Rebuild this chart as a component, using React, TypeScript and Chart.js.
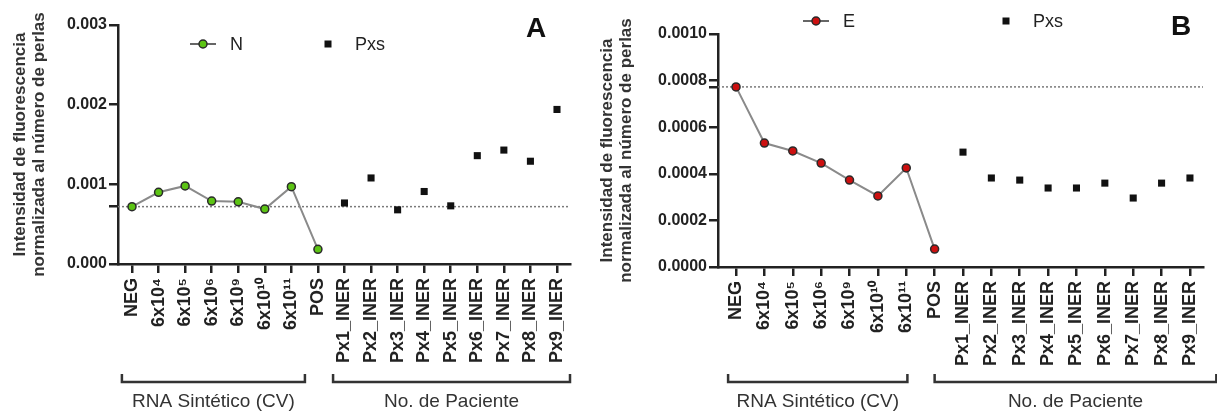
import React, { useEffect, useRef } from 'react';
import { Chart, registerables } from 'chart.js';

Chart.register(...registerables);

// ---------- data ----------
const categories = [
  'NEG', '6x10⁴', '6x10⁵', '6x10⁶', '6x10⁹', '6x10¹⁰', '6x10¹¹', 'POS',
  'Px1_INER', 'Px2_INER', 'Px3_INER', 'Px4_INER', 'Px5_INER', 'Px6_INER', 'Px7_INER', 'Px8_INER', 'Px9_INER',
];
const syntheticN = [0.00072, 0.0009, 0.00098, 0.00079, 0.00078, 0.00069, 0.00097, 0.000184];
const patientsA = [0.000766, 0.00108, 0.00068, 0.00091, 0.00073, 0.00136, 0.00143, 0.00129, 0.00194];
const cutoffA = 0.00072;
const yTicksA = [0, 0.001, 0.002, 0.003];

const syntheticE = [0.000773, 0.000532, 0.000498, 0.000446, 0.000373, 0.000305, 0.000425, 0.000077];
const patientsB = [0.000493, 0.000382, 0.000373, 0.000339, 0.000339, 0.00036, 0.000296, 0.00036, 0.000382];
const cutoffB = 0.000773;
const yTicksB = [0, 0.0002, 0.0004, 0.0006, 0.0008, 0.001];

const groupLabels = ['RNA Sintético (CV)', 'No. de Paciente'];
const yTitle = ['Intensidad de fluorescencia', 'normalizada al número de perlas'];
const patientLegend = 'Pxs';

const FONT = "'Liberation Sans', Arial, Helvetica, sans-serif";
const INK = '#222222';

type PanelCfg = {
  width: number;
  xMin: number;
  xMax: number;
  yMax: number;
  yTicks: number[];
  decimals: number;
  cutoff: number;
  synth: number[];
  patients: number[];
  synthLabel: string;
  color: string;
  letter: string;
  letterPos: [number, number];
  padTop: number;
  padRight: number;
  axisWidth: number;
  axisBottom: number;
  titlePad: number;
  brackets: [number, number][];
  legendY: number;
  legendSynthX: number;
  legendPxX: number;
};

const panelA: PanelCfg = {
  width: 600,
  xMin: -0.527,
  xMax: 16.49,
  yMax: 0.003,
  yTicks: yTicksA,
  decimals: 3,
  cutoff: cutoffA,
  synth: syntheticN,
  patients: patientsA,
  synthLabel: 'N',
  color: '#5cc414',
  letter: 'A',
  letterPos: [536, 29],
  padTop: 25,
  padRight: 30,
  axisWidth: 118,
  axisBottom: 264,
  titlePad: 11,
  brackets: [[-0.38, 6.51], [7.57, 16.49]],
  legendY: 44,
  legendSynthX: 203,
  legendPxX: 328,
};

const panelB: PanelCfg = {
  width: 619,
  xMin: -0.636,
  xMax: 16.46,
  yMax: 0.001,
  yTicks: yTicksB,
  decimals: 4,
  cutoff: cutoffB,
  synth: syntheticE,
  patients: patientsB,
  synthLabel: 'E',
  color: '#cc1010',
  letter: 'B',
  letterPos: [583, 27],
  padTop: 34,
  padRight: 14,
  axisWidth: 120,
  axisBottom: 267,
  titlePad: 0,
  brackets: [[-0.28, 6.04], [7.0, 16.93]],
  legendY: 21,
  legendSynthX: 218,
  legendPxX: 408,
};

function makeConfig(cfg: PanelCfg): any {
  const decor = {
    id: 'decor' + cfg.letter,
    afterDraw(chart: any) {
      const ctx = chart.ctx as CanvasRenderingContext2D;
      const xs = chart.scales.x;
      ctx.save();
      // brackets + group labels
      cfg.brackets.forEach((b, i) => {
        const x0 = xs.getPixelForValue(b[0]);
        const x1 = xs.getPixelForValue(b[1]);
        ctx.strokeStyle = '#333';
        ctx.lineWidth = 2.5;
        ctx.beginPath();
        ctx.moveTo(x0, 374);
        ctx.lineTo(x0, 382);
        ctx.lineTo(x1, 382);
        ctx.lineTo(x1, 374);
        ctx.stroke();
        ctx.fillStyle = '#333';
        ctx.font = `19px ${FONT}`;
        ctx.textAlign = 'center';
        ctx.textBaseline = 'middle';
        ctx.fillText(groupLabels[i], (x0 + x1) / 2, 402);
      });
      // legend
      const ly = cfg.legendY;
      const sx = cfg.legendSynthX;
      ctx.strokeStyle = '#666';
      ctx.lineWidth = 2;
      ctx.beginPath();
      ctx.moveTo(sx - 13, ly);
      ctx.lineTo(sx + 13, ly);
      ctx.stroke();
      ctx.beginPath();
      ctx.arc(sx, ly, 4, 0, Math.PI * 2);
      ctx.fillStyle = cfg.color;
      ctx.fill();
      ctx.lineWidth = 1.5;
      ctx.strokeStyle = '#2a2a2a';
      ctx.stroke();
      ctx.fillStyle = INK;
      ctx.font = `18px ${FONT}`;
      ctx.textAlign = 'left';
      ctx.textBaseline = 'middle';
      ctx.fillText(cfg.synthLabel, sx + 27, ly + 1);
      ctx.fillStyle = '#111';
      ctx.fillRect(cfg.legendPxX - 3.5, ly - 3.5, 7, 7);
      ctx.fillStyle = INK;
      ctx.fillText(patientLegend, cfg.legendPxX + 27, ly + 1);
      // panel letter
      ctx.font = `bold 28px ${FONT}`;
      ctx.textAlign = 'center';
      ctx.fillStyle = '#111';
      ctx.fillText(cfg.letter, cfg.letterPos[0], cfg.letterPos[1]);
      ctx.restore();
    },
  };

  return {
    type: 'scatter',
    data: {
      datasets: [
        {
          label: cfg.synthLabel,
          data: cfg.synth.map((v, i) => ({ x: i, y: v })),
          showLine: true,
          borderColor: '#8a8a8a',
          borderWidth: 2,
          backgroundColor: cfg.color,
          pointBackgroundColor: cfg.color,
          pointBorderColor: '#2a2a2a',
          pointBorderWidth: 1.5,
          pointRadius: 4,
          tension: 0,
          order: 1,
        },
        {
          label: patientLegend,
          data: cfg.patients.map((v, i) => ({ x: i + cfg.synth.length, y: v })),
          showLine: false,
          pointStyle: 'rect',
          pointRadius: 5,
          backgroundColor: '#111',
          borderColor: '#111',
          borderWidth: 0,
          order: 0,
        },
        {
          label: 'cutoff',
          data: [
            { x: cfg.xMin, y: cfg.cutoff },
            { x: cfg.xMax, y: cfg.cutoff },
          ],
          showLine: true,
          borderColor: '#7a7a7a',
          borderWidth: 1.5,
          borderDash: [2, 2],
          pointRadius: 0,
          order: 5,
        },
      ],
    },
    options: {
      responsive: false,
      animation: false,
      devicePixelRatio: 1,
      events: [],
      layout: { padding: { top: cfg.padTop, right: cfg.padRight, left: 0, bottom: 0 } },
      plugins: { legend: { display: false }, tooltip: { enabled: false } },
      scales: {
        x: {
          type: 'linear',
          min: cfg.xMin,
          max: cfg.xMax,
          afterBuildTicks: (s: any) => {
            s.ticks = categories.map((_, i) => ({ value: i }));
          },
          afterFit: (s: any) => {
            s.height = 412 - cfg.axisBottom;
          },
          ticks: {
            autoSkip: false,
            minRotation: 90,
            maxRotation: 90,
            padding: 5,
            color: INK,
            font: { family: FONT, size: 18, weight: 'bold' },
            callback: (v: number) => categories[Math.round(v)] ?? '',
          },
          grid: {
            display: true,
            drawOnChartArea: false,
            drawTicks: true,
            tickLength: 9,
            color: INK,
            lineWidth: 2.5,
          },
          border: { display: true, color: INK, width: 2.5 },
        },
        y: {
          type: 'linear',
          min: 0,
          max: cfg.yMax,
          afterBuildTicks: (s: any) => {
            s.ticks = [...cfg.yTicks, cfg.cutoff].sort((a, b) => a - b).map((v) => ({ value: v }));
          },
          afterFit: (s: any) => {
            s.width = cfg.axisWidth;
          },
          ticks: {
            padding: 2,
            color: INK,
            font: { family: FONT, size: 16, weight: 'bold' },
            callback: (v: number) => (v === cfg.cutoff ? '' : v.toFixed(cfg.decimals)),
          },
          grid: {
            display: true,
            drawOnChartArea: false,
            drawTicks: true,
            tickLength: 9,
            color: INK,
            lineWidth: 2.5,
          },
          border: { display: true, color: INK, width: 2.5 },
          title: {
            display: true,
            text: yTitle,
            color: '#333',
            padding: { top: cfg.titlePad, bottom: 0 },
            font: { family: FONT, size: 17, weight: 'bold', lineHeight: 1.1 },
          },
        },
      },
    },
    plugins: [decor],
  };
}

function Panel({ cfg, left }: { cfg: PanelCfg; left: number }) {
  const ref = useRef<HTMLCanvasElement>(null);
  useEffect(() => {
    if (!ref.current) return;
    const chart = new Chart(ref.current, makeConfig(cfg));
    return () => chart.destroy();
  }, [cfg]);
  return (
    <canvas
      ref={ref}
      width={cfg.width}
      height={412}
      style={{ position: 'absolute', left, top: 0, width: cfg.width, height: 412 }}
    />
  );
}

export default function App() {
  return (
    <div
      style={{
        position: 'fixed',
        left: 0,
        top: 0,
        width: 1217,
        height: 412,
        background: '#ffffff',
        overflow: 'hidden',
      }}
    >
      <Panel cfg={panelA} left={0} />
      <Panel cfg={panelB} left={598} />
    </div>
  );
}
